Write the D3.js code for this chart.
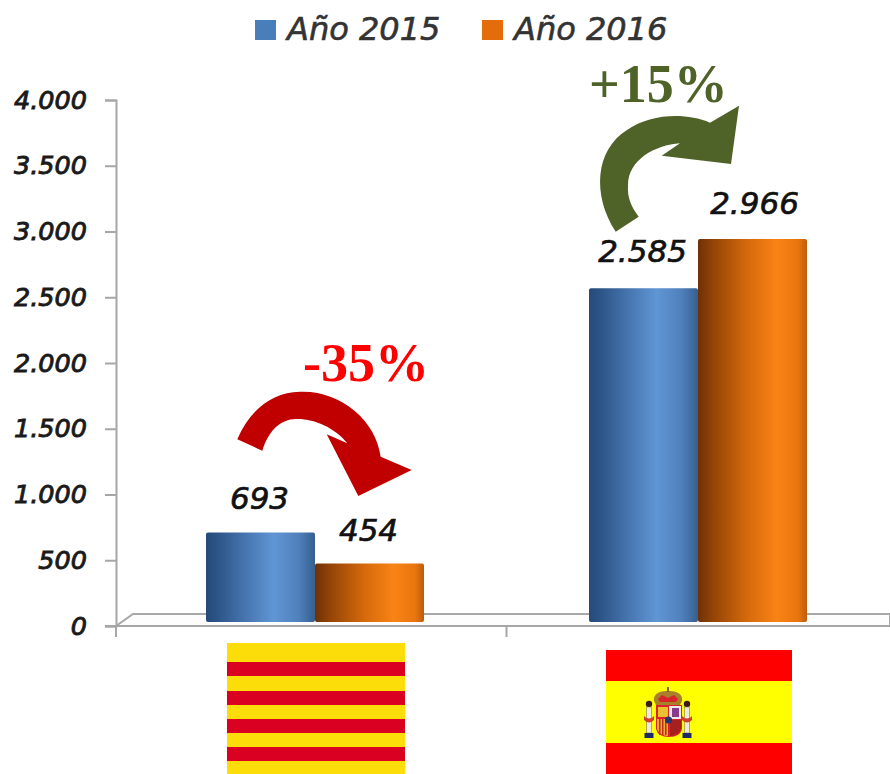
<!DOCTYPE html>
<html lang="en">
<head>
<meta charset="UTF-8">
<title>Año 2015 - Año 2016</title>
<script src="https://cdnjs.cloudflare.com/ajax/libs/d3/7.8.5/d3.min.js"></script>
<style>
    html, body { margin: 0; padding: 0; background: #fff; }
    svg { display: block; }
    text { font-family: "DejaVu Sans", sans-serif; font-style: italic; fill: #111; }
</style>
</head>
<body>
<script>
    var categories = ["Catalunya", "España"];
    var seriesNames = ["Año 2015", "Año 2016"];
    var values2015 = [693, 2585];
    var values2016 = [454, 2966];
    var valueLabels2015 = ["693", "2.585"];
    var valueLabels2016 = ["454", "2.966"];
    var changeLabels = ["-35%", "+15%"];
    var yTicks = [0, 500, 1000, 1500, 2000, 2500, 3000, 3500, 4000];

    var width = 890, height = 774;

    var svg = d3.select("body").append("svg")
        .attr("width", width)
        .attr("height", height);

    var defs = svg.append("defs");

    function cylinder(id, stops) {
        var g = defs.append("linearGradient").attr("id", id);
        stops.forEach(function (s) {
            g.append("stop").attr("offset", s[0]).attr("stop-color", s[1]);
        });
    }
    cylinder("blueBar", [[0, "#254a78"], [0.1, "#2c5487"], [0.4, "#4a7ab5"], [0.62, "#6096d4"], [0.85, "#4f80bc"], [1, "#35608f"]]);
    cylinder("orangeBar", [[0, "#6f3006"], [0.12, "#8f4206"], [0.45, "#d5690c"], [0.72, "#f98315"], [0.92, "#e8750e"], [1, "#bd5c0a"]]);

    // axis scale and the (slightly shorter) 3d bar scale
    var y = d3.scaleLinear().domain([0, 4000]).range([626, 100]);
    var yBar = d3.scaleLinear().domain([0, 4000]).range([622, 105.6]);
    var x0 = d3.scaleBand().domain(categories).range([123.5, 889.5]);
    var x1 = d3.scaleBand().domain(seriesNames).range([0, 218]);

    // floor of the 3d chart
    svg.append("path")
        .attr("d", "M116,626L133,614H890V626Z")
        .attr("fill", "#fdfdfd")
        .attr("stroke", "#a8a8a8")
        .attr("stroke-width", 2);

    var fmt = d3.formatLocale({ decimal: ",", thousands: ".", grouping: [3], currency: ["", ""] }).format(",d");

    var yAxis = svg.append("g")
        .attr("transform", "translate(116,0)")
        .call(d3.axisLeft(y).tickValues(yTicks).tickFormat(fmt).tickSize(11).tickPadding(18));
    yAxis.select(".domain").attr("stroke", "#a6a6a6").attr("stroke-width", 2);
    yAxis.selectAll(".tick line").attr("stroke", "#a6a6a6").attr("stroke-width", 2);
    yAxis.selectAll("text")
        .attr("font-size", 25.5)
        .attr("font-family", "DejaVu Sans")
        .style("fill", "#1a1a1a")
        .attr("stroke", "#1a1a1a")
        .attr("stroke-width", 0.9);

    // x axis line, ticks sit on the band edges
    var xAxisG = svg.append("g").attr("stroke", "#a6a6a6").attr("stroke-width", 2);
    xAxisG.append("line").attr("x1", 105).attr("x2", width).attr("y1", y(0)).attr("y2", y(0));
    xAxisG.selectAll("line.edge").data([116, x0(categories[1])])
        .enter().append("line").attr("class", "edge")
        .attr("x1", function (d) { return d; }).attr("x2", function (d) { return d; })
        .attr("y1", y(0)).attr("y2", y(0) + 11);

    // bars
    var rows = categories.map(function (c, i) {
        return [
            { cat: c, name: seriesNames[0], v: values2015[i], label: valueLabels2015[i], fill: "url(#blueBar)" },
            { cat: c, name: seriesNames[1], v: values2016[i], label: valueLabels2016[i], fill: "url(#orangeBar)" }
        ];
    });

    var groups = svg.selectAll("g.grp").data(rows).enter().append("g")
        .attr("class", "grp")
        .attr("transform", function (d) {
            return "translate(" + (x0(d[0].cat) + (x0.bandwidth() - 218) / 2) + ",0)";
        });

    groups.selectAll("rect").data(function (d) { return d; }).enter().append("rect")
        .attr("x", function (d) { return x1(d.name); })
        .attr("y", function (d) { return yBar(d.v); })
        .attr("width", x1.bandwidth())
        .attr("height", function (d) { return yBar(0) - yBar(d.v); })
        .attr("rx", 2)
        .attr("fill", function (d) { return d.fill; });

    // value labels, placed by hand above each bar like in the original
    var labelDx = [[-1, -1], [-1, 2]];
    var labelDy = [[24, 22], [26, 25]];
    groups.each(function (row, i) {
        d3.select(this).selectAll("text.val").data(row).enter().append("text")
            .attr("class", "val")
            .attr("text-anchor", "middle")
            .attr("font-size", 31)
            .attr("stroke", "#111")
            .attr("stroke-width", 0.7)
            .attr("x", function (d, j) { return x1(d.name) + x1.bandwidth() / 2 + labelDx[i][j]; })
            .attr("y", function (d, j) { return yBar(d.v) - labelDy[i][j]; })
            .text(function (d) { return d.label; });
    });

    // legend
    var legendX = [255, 482];
    var legendFill = ["#4a7ebb", "#e46c0a"];
    var legend = svg.selectAll("g.leg").data(seriesNames).enter().append("g")
        .attr("class", "leg")
        .attr("transform", function (d, i) { return "translate(" + legendX[i] + ",0)"; });
    legend.append("rect").attr("y", 20).attr("width", 21).attr("height", 20)
        .attr("fill", function (d, i) { return legendFill[i]; });
    legend.append("text").attr("x", 32).attr("y", 40)
        .attr("font-size", 32)
        .attr("stroke", "#333")
        .attr("stroke-width", 0.6)
        .style("fill", "#333")
        .text(function (d) { return d; });

    // curved arrows
    var redArrow = d3.path();
    redArrow.moveTo(237.3, 439.3);
    redArrow.bezierCurveTo(250, 410, 272, 392, 300, 391.7);
    redArrow.bezierCurveTo(340, 390, 376, 420, 380.7, 456.7);
    redArrow.lineTo(411.7, 470);
    redArrow.lineTo(358.3, 496);
    redArrow.lineTo(326.7, 434.3);
    redArrow.lineTo(347.3, 443.3);
    redArrow.bezierCurveTo(335, 428, 315, 419, 298, 419);
    redArrow.bezierCurveTo(280, 418, 268, 432, 262.3, 450.7);
    redArrow.closePath();
    svg.append("path").attr("d", redArrow.toString()).attr("fill", "#c00000");

    var greenArrow = d3.path();
    greenArrow.moveTo(615.7, 231.7);
    greenArrow.bezierCurveTo(592, 195, 595, 150, 627, 130);
    greenArrow.bezierCurveTo(650, 114, 685, 112, 710, 122.7);
    greenArrow.lineTo(739, 105.7);
    greenArrow.lineTo(731, 164);
    greenArrow.lineTo(661.7, 155.7);
    greenArrow.lineTo(680, 143.3);
    greenArrow.bezierCurveTo(655, 145, 628, 160, 628, 185);
    greenArrow.bezierCurveTo(627, 198, 632, 208, 638.7, 216.7);
    greenArrow.closePath();
    svg.append("path").attr("d", greenArrow.toString()).attr("fill", "#4f6228");

    // change labels
    svg.selectAll("text.chg").data(changeLabels).enter().append("text")
        .attr("class", "chg")
        .attr("x", function (d, i) { return [303, 589][i]; })
        .attr("y", function (d, i) { return [381, 102][i]; })
        .attr("font-size", 54)
        .attr("font-weight", "bold")
        .style("font-family", "'Liberation Serif', serif")
        .style("font-style", "normal")
        .style("fill", function (d, i) { return ["#ff0000", "#4f6228"][i]; })
        .text(function (d) { return d; });

    // flag of Catalunya
    var flagCat = svg.append("g");
    flagCat.append("rect").attr("x", 227).attr("y", 643).attr("width", 178).attr("height", 131).attr("fill", "#fcdd09");
    flagCat.selectAll("rect.bar").data([662, 691, 719, 747]).enter().append("rect")
        .attr("class", "bar")
        .attr("x", 227).attr("width", 178)
        .attr("y", function (d) { return d; })
        .attr("height", 14)
        .attr("fill", "#da0021");

    // flag of Spain
    var flagEs = svg.append("g");
    flagEs.append("rect").attr("x", 606).attr("y", 650).attr("width", 186).attr("height", 124).attr("fill", "#ff0000");
    flagEs.append("rect").attr("x", 606).attr("y", 681).attr("width", 186).attr("height", 62).attr("fill", "#ffff00");

    // coat of arms, simplified
    var coat = flagEs.append("g");
    coat.append("path").attr("d", "M654,701C653,692 662,691 668,691C674,691 683,692 682,701L680,705H656Z").attr("fill", "#a8802a");
    coat.append("path").attr("d", "M658,699L662,695L668,698L674,695L678,699L676,702H660Z").attr("fill", "#d8232a");
    coat.append("rect").attr("x", 667).attr("y", 687).attr("width", 2).attr("height", 5).attr("fill", "#7a6a20");
    [649, 687].forEach(function (px) {
        coat.append("circle").attr("cx", px).attr("cy", 704).attr("r", 3.2).attr("fill", "#3a1a1a");
        coat.append("rect").attr("x", px - 2.5).attr("y", 707).attr("width", 5).attr("height", 26).attr("fill", "#ece9e0").attr("stroke", "#8a7a3a").attr("stroke-width", 0.6);
        coat.append("rect").attr("x", px - 4.5).attr("y", 733).attr("width", 9).attr("height", 5).attr("fill", "#1c2a6a");
        coat.append("path").attr("d", "M" + (px - 5) + ",716Q" + px + ",721 " + (px + 5) + ",716L" + (px + 5) + ",720Q" + px + ",725 " + (px - 5) + ",720Z").attr("fill", "#d0402a");
    });
    coat.append("path").attr("d", "M656,705H682V729Q680,737 669,737Q658,737 656,729Z").attr("fill", "#d8232a");
    coat.append("rect").attr("x", 669).attr("y", 706).attr("width", 12).attr("height", 13).attr("fill", "#efe8ef");
    coat.append("rect").attr("x", 672).attr("y", 708).attr("width", 7).attr("height", 9).attr("fill", "#8a3a8a");
    coat.append("rect").attr("x", 658).attr("y", 707).attr("width", 10).attr("height", 10).attr("fill", "#e8c030");
    coat.append("path").attr("d", "M657,719H668V736Q660,736 657,729Z").attr("fill", "#e8b030");
    coat.selectAll("rect.pale").data([659, 662, 665]).enter().append("rect")
        .attr("class", "pale")
        .attr("x", function (d) { return d; }).attr("y", 719).attr("width", 1.5).attr("height", 16).attr("fill", "#c8281e");
    coat.append("path").attr("d", "M670,720H681V729Q679,735 670,736Z").attr("fill", "#a8201e");
    coat.append("circle").attr("cx", 668.5).attr("cy", 720).attr("r", 3.5).attr("fill", "#24346e");
</script>
</body>
</html>
